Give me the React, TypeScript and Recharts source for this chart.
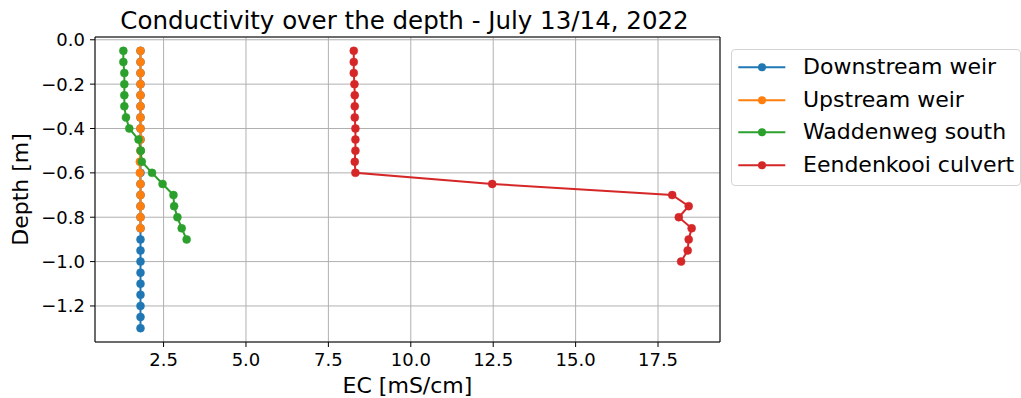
import React from 'react';
import {
  ScatterChart,
  Scatter,
  XAxis,
  YAxis,
  CartesianGrid,
  ReferenceLine,
  Legend,
} from 'recharts';

// ---------- data ----------
const downstreamDepth = [-0.05, -0.1, -0.15, -0.2, -0.25, -0.3, -0.35, -0.4, -0.45, -0.5, -0.55, -0.6, -0.65, -0.7, -0.75, -0.8, -0.85, -0.9, -0.95, -1.0, -1.05, -1.1, -1.15, -1.2, -1.25, -1.3];
const downstreamEC = [1.8, 1.8, 1.8, 1.8, 1.8, 1.8, 1.8, 1.8, 1.8, 1.8, 1.8, 1.8, 1.8, 1.8, 1.8, 1.8, 1.8, 1.8, 1.8, 1.8, 1.8, 1.8, 1.8, 1.8, 1.8, 1.8];

const upstreamDepth = [-0.05, -0.1, -0.15, -0.2, -0.25, -0.3, -0.35, -0.4, -0.45, -0.5, -0.55, -0.6, -0.65, -0.7, -0.75, -0.8, -0.85];
const upstreamEC = [1.8, 1.8, 1.8, 1.8, 1.8, 1.8, 1.8, 1.8, 1.8, 1.8, 1.78, 1.78, 1.8, 1.8, 1.8, 1.8, 1.8];

const waddenDepth = [-0.05, -0.1, -0.15, -0.2, -0.25, -0.3, -0.35, -0.4, -0.45, -0.5, -0.55, -0.6, -0.65, -0.7, -0.75, -0.8, -0.85, -0.9];
const waddenEC = [1.28, 1.28, 1.31, 1.31, 1.31, 1.31, 1.36, 1.46, 1.74, 1.81, 1.84, 2.15, 2.47, 2.8, 2.82, 2.92, 3.05, 3.2];

const eendenDepth = [-0.05, -0.1, -0.15, -0.2, -0.25, -0.3, -0.35, -0.4, -0.45, -0.5, -0.55, -0.6, -0.65, -0.7, -0.75, -0.8, -0.85, -0.9, -0.95, -1.0];
const eendenEC = [8.27, 8.27, 8.27, 8.29, 8.3, 8.3, 8.3, 8.32, 8.32, 8.32, 8.3, 8.32, 12.47, 17.93, 18.43, 18.13, 18.52, 18.43, 18.4, 18.2];

const seriesNames = ['Downstream weir', 'Upstream weir', 'Waddenweg south', 'Eendenkooi culvert'];
const seriesColors = ['#1f77b4', '#ff7f0e', '#2ca02c', '#d62728'];

const xTicks = [2.5, 5.0, 7.5, 10.0, 12.5, 15.0, 17.5];
const yTicks = [0.0, -0.2, -0.4, -0.6, -0.8, -1.0, -1.2];

const titleText = 'Conductivity over the depth - July 13/14, 2022';
const xLabelText = 'EC [mS/cm]';
const yLabelText = 'Depth [m]';

// ---------- helpers ----------
const zip = (xs: number[], ys: number[]) => xs.map((x, i) => ({ x, y: ys[i] }));

const series = [
  zip(downstreamEC, downstreamDepth),
  zip(upstreamEC, upstreamDepth),
  zip(waddenEC, waddenDepth),
  zip(eendenEC, eendenDepth),
];

const X_MIN = 0.42;
const X_MAX = 19.38;
const Y_MIN = -1.3625;
const Y_MAX = 0.0125;

const FONT = '"DejaVu Sans", sans-serif';
const W = 1021;
const H = 398;
const M = { top: 37, right: 301, bottom: 0, left: 0 };
const YAXIS_W = 95;
const XAXIS_H = 56;

const plotLeft = M.left + YAXIS_W;
const plotRight = W - M.right;
const plotTop = M.top;
const plotBottom = H - M.bottom - XAXIS_H;
const plotCx = (plotLeft + plotRight) / 2;
const plotCy = (plotTop + plotBottom) / 2;

const fmtTick = (v: number) => {
  const s = v.toFixed(1);
  return s.startsWith('-') ? '\u2212' + s.slice(1) : s;
};

const makeDot = (color: string) => (props: any) => {
  const { cx, cy } = props;
  if (cx == null || cy == null) return <g />;
  return <circle cx={cx} cy={cy} r={4} fill={color} stroke={color} strokeWidth={0.5} />;
};

const renderLegend = () => (
  <div
    style={{
      boxSizing: 'border-box',
      width: 290,
      height: 137,
      border: '1px solid #d4d4d4',
      borderRadius: 4,
      background: 'rgba(255,255,255,0.8)',
      paddingTop: 1,
      fontFamily: FONT,
    }}
  >
    {seriesNames.map((name, i) => (
      <div key={name} style={{ display: 'flex', alignItems: 'center', height: 32.5 }}>
        <svg width={71} height={32.5} style={{ flex: 'none' }}>
          <line x1={6.3} x2={53.3} y1={16.25} y2={16.25} stroke={seriesColors[i]} strokeWidth={2} />
          <circle cx={30} cy={16.25} r={4} fill={seriesColors[i]} />
        </svg>
        <span style={{ fontSize: 22, color: '#000', whiteSpace: 'nowrap', lineHeight: '32.5px' }}>{name}</span>
      </div>
    ))}
  </div>
);

export default function App() {
  return (
    <div style={{ position: 'absolute', left: 0, top: 0, width: W, height: H, background: '#fff' }}>
      <ScatterChart width={W} height={H} margin={M}>
        <CartesianGrid stroke="#b0b0b0" strokeWidth={1} />
        <XAxis
          type="number"
          dataKey="x"
          domain={[X_MIN, X_MAX]}
          ticks={xTicks}
          allowDataOverflow
          height={XAXIS_H}
          tickFormatter={fmtTick}
          tick={{ fill: '#000', fontSize: 18, fontFamily: FONT }}
          tickSize={5}
          tickMargin={6}
          axisLine={{ stroke: '#000', strokeWidth: 1 }}
          tickLine={{ stroke: '#000', strokeWidth: 1 }}
          interval={0}
        />
        <YAxis
          type="number"
          dataKey="y"
          domain={[Y_MIN, Y_MAX]}
          ticks={yTicks}
          allowDataOverflow
          width={YAXIS_W}
          tickFormatter={fmtTick}
          tick={{ fill: '#000', fontSize: 18, fontFamily: FONT }}
          tickSize={5}
          tickMargin={5}
          axisLine={{ stroke: '#000', strokeWidth: 1 }}
          tickLine={{ stroke: '#000', strokeWidth: 1 }}
          interval={0}
        />
        <ReferenceLine y={Y_MAX} stroke="#000" strokeWidth={1} ifOverflow="visible" />
        <ReferenceLine x={X_MAX} stroke="#000" strokeWidth={1} ifOverflow="visible" />
        {series.map((data, i) => (
          <Scatter
            key={seriesNames[i]}
            name={seriesNames[i]}
            data={data}
            fill={seriesColors[i]}
            line={{ stroke: seriesColors[i], strokeWidth: 2 }}
            lineType="joint"
            shape={makeDot(seriesColors[i])}
            isAnimationActive={false}
          />
        ))}
        <Legend
          layout="horizontal"
          verticalAlign="middle"
          align="center"
          content={renderLegend}
          wrapperStyle={{ position: 'absolute', left: 731, top: 49, width: 290, height: 137 }}
        />
        <text x={plotCx - 3} y={29} textAnchor="middle" fontSize={24.5} fontFamily={FONT} fill="#000">
          {titleText}
        </text>
        <text x={plotCx} y={393} textAnchor="middle" fontSize={22} fontFamily={FONT} fill="#000">
          {xLabelText}
        </text>
        <text
          x={28}
          y={plotCy}
          textAnchor="middle"
          fontSize={22}
          fontFamily={FONT}
          fill="#000"
          transform={`rotate(-90, 28, ${plotCy})`}
        >
          {yLabelText}
        </text>
      </ScatterChart>
    </div>
  );
}
